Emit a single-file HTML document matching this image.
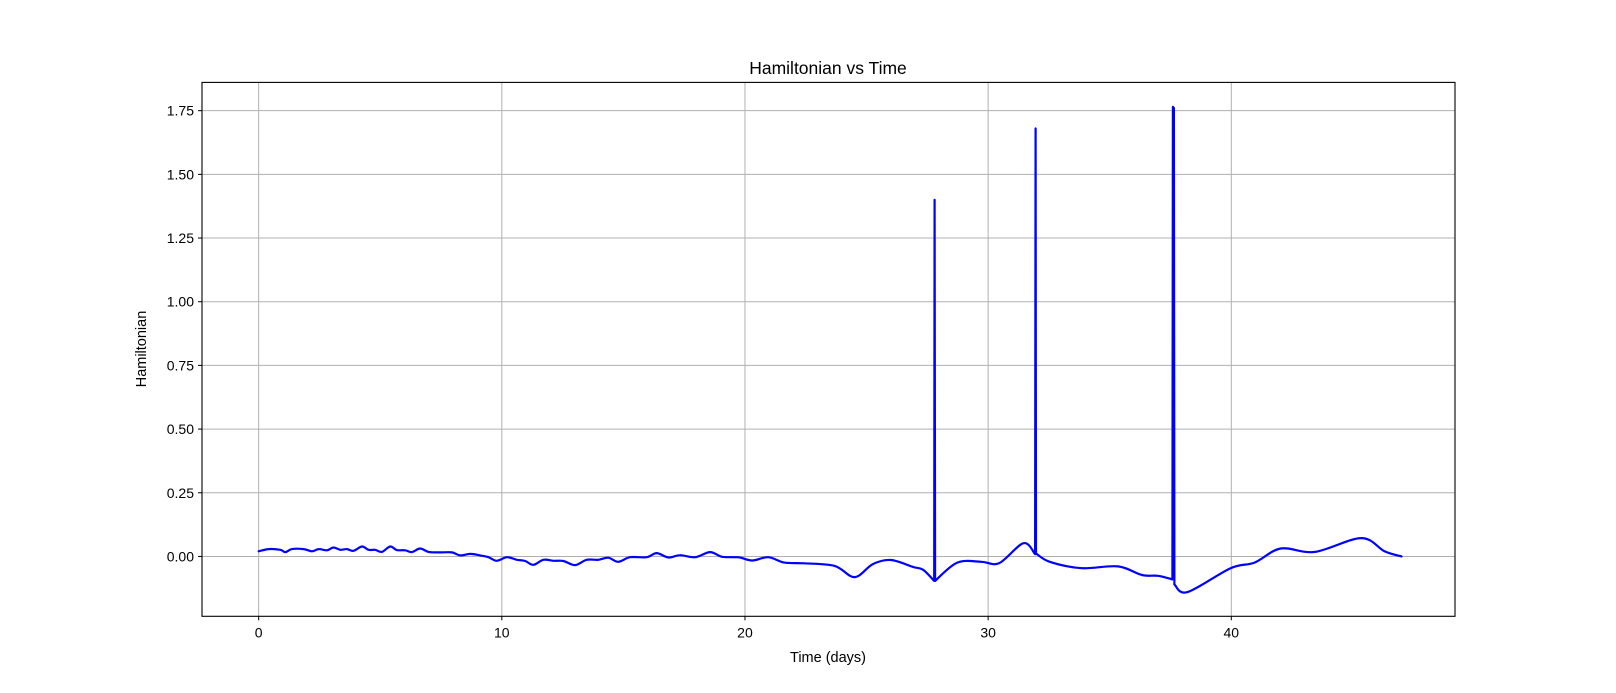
<!DOCTYPE html>
<html><head><meta charset="utf-8"><style>
body{margin:0;background:#fff;}
svg{display:block;font-family:"Liberation Sans","DejaVu Sans",sans-serif;}
</style></head><body>
<svg id="chart" width="1616" height="693">
<rect width="1616" height="693" fill="#fff"/>
<g id="grid"></g>
<g id="ticks"></g>
<path id="line" fill="none" stroke="#0000ff" stroke-width="2.2" stroke-linejoin="round" stroke-linecap="round"/>
<rect x="202" y="82.4" width="1253" height="533.9" fill="none" stroke="#000" stroke-width="1.1"/>
<text x="828" y="74" font-size="17.5" text-anchor="middle">Hamiltonian vs Time</text>
<text x="828" y="662" font-size="14.5" text-anchor="middle">Time (days)</text>
<text transform="translate(146,349) rotate(-90)" font-size="14.5" text-anchor="middle">Hamiltonian</text>
</svg>
<script>
const times = [0,0.41,0.89,1.10,1.37,1.85,2.19,2.47,2.81,3.08,3.36,3.63,3.90,4.25,4.52,4.79,5.07,5.41,5.68,6.03,6.30,6.64,6.99,7.47,7.95,8.29,8.70,9.11,9.45,9.79,10.21,10.62,10.96,11.30,11.71,12.12,12.53,13.01,13.49,13.97,14.38,14.79,15.27,15.96,16.37,16.85,17.33,17.95,18.56,19.04,19.52,19.80,20.30,20.96,21.62,22.45,23.69,24.51,25.26,26.00,26.91,27.32,27.78,27.80,27.82,28.73,29.72,30.46,31.45,31.93,31.95,31.97,32.53,33.85,35.34,36.33,36.99,37.58,37.60,37.64,37.66,38.20,39.97,40.96,42.03,43.44,45.34,46.3,47.0];
const hamiltonian = [0.020,0.029,0.026,0.017,0.029,0.029,0.020,0.029,0.024,0.035,0.026,0.029,0.022,0.039,0.026,0.026,0.018,0.039,0.025,0.024,0.017,0.031,0.018,0.016,0.016,0.004,0.010,0.004,-0.003,-0.017,-0.003,-0.013,-0.018,-0.033,-0.013,-0.017,-0.018,-0.034,-0.013,-0.013,-0.005,-0.021,-0.003,-0.003,0.013,-0.004,0.005,-0.003,0.017,-0.001,-0.003,-0.004,-0.016,-0.003,-0.024,-0.027,-0.037,-0.081,-0.030,-0.014,-0.041,-0.052,-0.096,1.40,-0.096,-0.024,-0.021,-0.026,0.052,0.009,1.68,0.012,-0.021,-0.046,-0.039,-0.073,-0.076,-0.09,1.765,1.76,-0.11,-0.140,-0.046,-0.024,0.031,0.018,0.072,0.02,0.0];
const xTicks = [0,10,20,30,40];
const yTicks = [0,0.25,0.5,0.75,1.0,1.25,1.5,1.75];
const yTickLabels = ["0.00","0.25","0.50","0.75","1.00","1.25","1.50","1.75"];
const L=202,R=1455,T=82.4,B=616.3;
const xMin=-2.33,xMax=49.2,yMin=-0.235,yMax=1.861;
function sx(t){return L+(t-xMin)/(xMax-xMin)*(R-L);}
function sy(h){return B-(h-yMin)/(yMax-yMin)*(B-T);}
const NS="http://www.w3.org/2000/svg";
const grid=document.getElementById('grid'),ticks=document.getElementById('ticks');
function mk(tag,attrs,parent){const e=document.createElementNS(NS,tag);for(const k in attrs)e.setAttribute(k,attrs[k]);parent.appendChild(e);return e;}
xTicks.forEach(v=>{const x=sx(v);
 const g=mk('line',{x1:x,x2:x,y1:T,y2:B,stroke:'#b0b0b0','stroke-width':1},grid);
 
 
 const tk=mk('line',{x1:x,x2:x,y1:B,y2:B+4,stroke:'#000','stroke-width':1},ticks);
 
 
 const t=mk('text',{x:x,y:B+21,'font-size':14,'text-anchor':'middle'},ticks);t.textContent=v;
 
 
});
yTicks.forEach((v,i)=>{const y=sy(v);
 const g=mk('line',{x1:L,x2:R,y1:y,y2:y,stroke:'#b0b0b0','stroke-width':1},grid);
 
 
 const tk=mk('line',{x1:L-4,x2:L,y1:y,y2:y,stroke:'#000','stroke-width':1},ticks);
 
 
 const t=mk('text',{x:L-8,y:y+5,'font-size':14,'text-anchor':'end'},ticks);t.textContent=yTickLabels[i];
 
 
});
// smooth curve (Catmull-Rom) except across spike segments
const P=times.map((t,i)=>[sx(t),sy(hamiltonian[i])]);
const isSpike=i=>hamiltonian[i]>0.5;
let d='M'+P[0][0].toFixed(1)+','+P[0][1].toFixed(1);
for(let i=0;i<P.length-1;i++){
  const p1=P[i],p2=P[i+1];
  if(isSpike(i)||isSpike(i+1)){d+='L'+p2[0].toFixed(1)+','+p2[1].toFixed(1);continue;}
  const p0=(i>0&&!isSpike(i-1))?P[i-1]:p1;
  const p3=(i+2<P.length&&!isSpike(i+2))?P[i+2]:p2;
  const c1=[p1[0]+(p2[0]-p0[0])/6,p1[1]+(p2[1]-p0[1])/6];
  const c2=[p2[0]-(p3[0]-p1[0])/6,p2[1]-(p3[1]-p1[1])/6];
  d+='C'+c1[0].toFixed(1)+','+c1[1].toFixed(1)+' '+c2[0].toFixed(1)+','+c2[1].toFixed(1)+' '+p2[0].toFixed(1)+','+p2[1].toFixed(1);
}
document.getElementById('line').setAttribute('d',d);
</script>
</body></html>
